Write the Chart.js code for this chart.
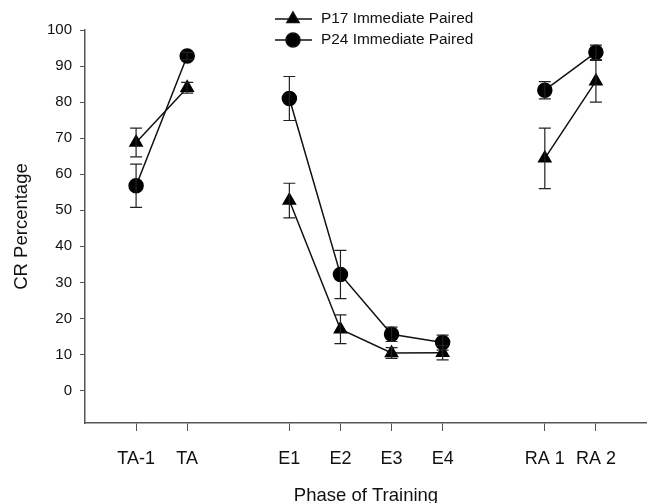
<!DOCTYPE html>
<html lang="en">
<head>
<meta charset="UTF-8">
<title>CR Percentage by Phase of Training</title>
<script src="https://cdn.jsdelivr.net/npm/chart.js"></script>
<style>
  html, body { margin: 0; padding: 0; background: #fff; }
  #wrap { width: 647px; height: 503px; }
</style>
</head>
<body>
<div id="wrap"><canvas id="crChart" width="647" height="503"></canvas></div>
<script>
// blank slots are the gaps between the training phases on the x axis
const phases = ['', 'TA-1', 'TA', '', 'E1', 'E2', 'E3', 'E4', '', 'RA 1', 'RA 2', ''];
const p17 = [null, 68.8, 84, null, 52.7, 17, 10.4, 10.5, null, 64.4, 85.8, null];
const p17Err = [null, 4, 1.5, null, 4.8, 4, 1.5, 2, null, 8.4, 5.8, null];
const p24 = [null, 56.8, 92.8, null, 81, 32.2, 15.6, 13.3, null, 83.3, 93.8, null];
const p24Err = [null, 6, 1, null, 6.1, 6.7, 2, 2.1, null, 2.4, 2, null];
const yTicks = [0, 10, 20, 30, 40, 50, 60, 70, 80, 90, 100];
const yMin = -9;
const yMax = 100;

const axisColor = '#555';
const fontFamily = 'Arial, "Liberation Sans", Helvetica, sans-serif';

Chart.defaults.font.family = fontFamily;
Chart.defaults.color = '#111';

// vertical error bars with caps
const errorBars = {
    id: 'errorBars',
    afterDatasetsDraw(chart) {
        const ctx = chart.ctx;
        const x = chart.scales.x, y = chart.scales.y;
        ctx.save();
        ctx.strokeStyle = '#222';
        ctx.lineWidth = 1.2;
        chart.data.datasets.forEach(ds => {
            ds.data.forEach((v, i) => {
                if (v == null) return;
                const e = ds.errors[i];
                const px = x.getPixelForValue(i);
                const top = y.getPixelForValue(v + e);
                const bot = y.getPixelForValue(v - e);
                ctx.beginPath();
                ctx.moveTo(px, top); ctx.lineTo(px, bot);
                ctx.moveTo(px - 6, top); ctx.lineTo(px + 6, top);
                ctx.moveTo(px - 6, bot); ctx.lineTo(px + 6, bot);
                ctx.stroke();
            });
        });
        ctx.restore();
    }
};

// legend drawn as line + marker + text, sitting over the top of the plot
const lineLegend = {
    id: 'lineLegend',
    afterDraw(chart) {
        const ctx = chart.ctx;
        ctx.save();
        chart.data.datasets.forEach((ds, i) => {
            const yy = 19 + i * 21;
            ctx.strokeStyle = '#111';
            ctx.lineWidth = 1.5;
            ctx.beginPath();
            ctx.moveTo(275, yy); ctx.lineTo(312, yy);
            ctx.stroke();
            ctx.fillStyle = '#000';
            Chart.helpers.drawPoint(ctx, {
                pointStyle: ds.pointStyle, radius: ds.pointRadius, borderWidth: 1
            }, 293, yy);
            ctx.fillStyle = '#111';
            ctx.font = '15.4px ' + fontFamily;
            ctx.textBaseline = 'middle';
            ctx.textAlign = 'left';
            ctx.fillText(ds.label, 321, yy);
        });
        ctx.restore();
    }
};

new Chart(document.getElementById('crChart'), {
    type: 'line',
    data: {
        labels: phases,
        datasets: [
            {
                label: 'P17 Immediate Paired',
                data: p17,
                errors: p17Err,
                borderColor: '#111',
                borderWidth: 1.5,
                pointStyle: 'triangle',
                pointRadius: 7,
                pointBackgroundColor: '#000',
                pointBorderColor: '#000',
                spanGaps: false
            },
            {
                label: 'P24 Immediate Paired',
                data: p24,
                errors: p24Err,
                borderColor: '#111',
                borderWidth: 1.5,
                pointStyle: 'circle',
                pointRadius: 7,
                pointBackgroundColor: '#000',
                pointBorderColor: '#000',
                spanGaps: false
            }
        ]
    },
    options: {
        responsive: false,
        animation: false,
        devicePixelRatio: 1,
        layout: { autoPadding: false, padding: { top: 30, right: 0, bottom: 0, left: 0 } },
        plugins: {
            legend: { display: false },
            tooltip: { enabled: false }
        },
        scales: {
            x: {
                type: 'category',
                offset: false,
                afterFit(scale) {
                    scale.height = 80;
                    scale.paddingLeft = 0;
                    scale.paddingRight = 0;
                },
                afterBuildTicks(scale) {
                    scale.ticks = scale.ticks.filter(t => phases[t.value] !== '');
                },
                grid: { drawOnChartArea: false, tickLength: 8, color: axisColor, lineWidth: 1 },
                border: { color: axisColor, width: 1.5 },
                ticks: { font: { size: 18 }, padding: 17, autoSkip: false, maxRotation: 0, color: '#111' },
                title: {
                    display: true,
                    text: 'Phase of Training',
                    font: { size: 18.5, lineHeight: 0.8 },
                    padding: { top: 0, bottom: 0 },
                    color: '#111'
                }
            },
            y: {
                min: yMin,
                max: yMax,
                afterFit(scale) { scale.width = 85; },
                afterBuildTicks(scale) {
                    scale.ticks = yTicks.map(v => ({ value: v }));
                },
                grid: { drawOnChartArea: false, tickLength: 5, color: axisColor, lineWidth: 1 },
                border: { color: axisColor, width: 1.5 },
                ticks: { font: { size: 15 }, padding: 8, color: '#111' },
                title: {
                    display: true,
                    text: 'CR Percentage',
                    font: { size: 18.5 },
                    padding: { top: 11, bottom: 0 },
                    color: '#111'
                }
            }
        }
    },
    plugins: [errorBars, lineLegend]
});
</script>
</body>
</html>
